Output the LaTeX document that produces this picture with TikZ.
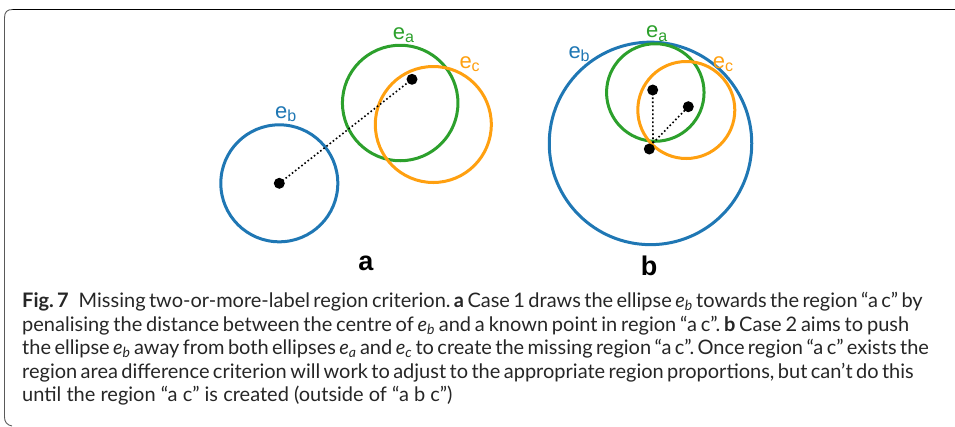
\documentclass[tikz,border=0pt]{standalone}
\usepackage{fontspec}
\setmainfont{Lato}
\newfontfamily\arialf{Liberation Sans}
\definecolor{cblue}{HTML}{1F77B4}
\definecolor{cgreen}{HTML}{2CA02C}
\definecolor{corange}{HTML}{FFA010}
\definecolor{capgray}{HTML}{262626}
\newcommand{\elab}[1]{{\arialf\fontsize{22}{22}\selectfont e\raisebox{-3.5pt}{\fontsize{16}{16}\selectfont #1}}}
\newcommand{\ie}[1]{\textit{e}\textsubscript{\textit{#1}}}
\frenchspacing
\begin{document}
\begin{tikzpicture}[x=1pt,y=-1pt,
  ring/.style={circle, draw=#1, line width=3pt, inner sep=0pt},
  blackdot/.style={circle, fill=black, inner sep=0pt, minimum size=11pt},
  dotline/.style={line width=1.6pt, dash pattern=on 1.6pt off 2.4pt},
  lbl/.style={inner sep=0pt, anchor=base west},
  panel/.style={inner sep=0pt, anchor=base, font=\arialf\bfseries\fontsize{27}{27}\selectfont},
  capline/.style={inner sep=0pt, anchor=base west, text=capgray, font=\fontsize{20}{20}\selectfont}]
\useasboundingbox (0,0) rectangle (955,426);
% frame
\draw[line width=1.6pt, black] (12,9.5) -- (955,9.5);
\draw[line width=0.9pt, black!65] (12.5,9.5) .. controls (7,9.5) and (4.5,12) .. (4.5,18) -- (4.5,417) .. controls (4.5,422) and (7,425) .. (12,426);
% panel a
\node[ring=cblue, minimum size=117pt] (eb1) at (279.3,183.3) {};
\node[ring=cgreen, minimum size=115.5pt] (ea1) at (400.2,103) {};
\node[ring=corange, minimum size=116pt] (ec1) at (433.3,124.5) {};
\node[blackdot] (p1) at (279.3,183.3) {};
\node[blackdot] (q1) at (412,79.3) {};
\draw[dotline] (p1.center) -- (q1.center);
\node[lbl, text=cblue] (leb1) at (275,118.3) {\elab{b}};
\node[lbl, text=cgreen] (lea1) at (392.7,39.3) {\elab{a}};
\node[lbl, text=corange] (lec1) at (459.3,68.3) {\elab{c}};
\node[panel] (pa) at (366,270) {a};
% panel b
\node[ring=cblue, minimum size=202.5pt] (eb2) at (650.5,143.4) {};
\node[ring=cgreen, minimum size=97.5pt] (ea2) at (655.3,92.5) {};
\node[ring=corange, minimum size=97pt] (ec2) at (686.3,110) {};
\node[blackdot] (p2) at (649.3,149) {};
\node[blackdot] (q2) at (652.7,90) {};
\node[blackdot] (r2) at (688.3,106.7) {};
\coordinate (s2) at (653,143);
\draw[dotline] (s2) -- (q2.center);
\draw[dotline] (s2) -- (r2.center);
\node[lbl, text=cblue] (leb2) at (568.3,58.3) {\elab{b}};
\node[lbl, text=cgreen] (lea2) at (646,37.7) {\elab{a}};
\node[lbl, text=corange] (lec2) at (712.7,68.3) {\elab{c}};
\node[panel] (pb) at (649,275) {b};
% caption
\node[capline] (c1) at (22,307.5) {\makebox[897pt][s]{\textbf{Fig. 7}\hspace{0.5em}Missing two-or-more-label region criterion. \textbf{a} Case 1 draws the ellipse \ie{b} towards the region “a c” by}};
\node[capline] (c2) at (22,331) {\makebox[887pt][s]{penalising the distance between the centre of \ie{b} and a known point in region “a c”. \textbf{b} Case 2 aims to push}};
\node[capline] (c3) at (22,354.5) {\makebox[904pt][s]{the ellipse \ie{b} away from both ellipses \ie{a} and \ie{c} to create the missing region “a c”. Once region “a c” exists the}};
\node[capline] (c4) at (22,378) {\makebox[885pt][s]{region area difference criterion will work to adjust to the appropriate region proportions, but can’t do this}};
\node[capline] (c5) at (22,401) {until the region “a c” is created (outside of “a b c”)};
\end{tikzpicture}
\end{document}
